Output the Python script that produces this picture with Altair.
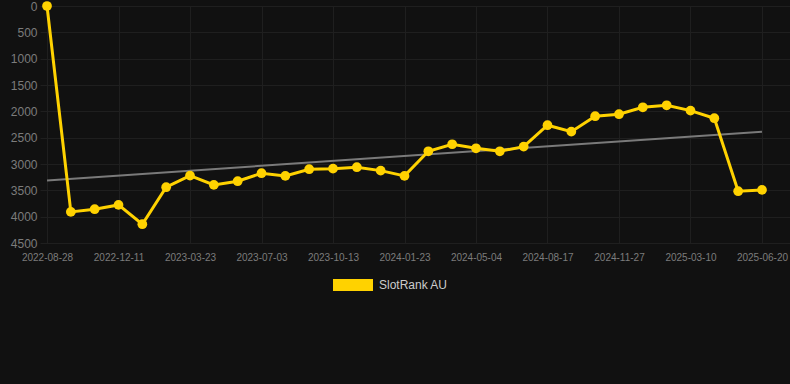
import json
import altair as alt
import pandas as pd

tick_labels = ["2022-08-28", "2022-12-11", "2023-03-23", "2023-07-03", "2023-10-13",
               "2024-01-23", "2024-05-04", "2024-08-17", "2024-11-27", "2025-03-10",
               "2025-06-20"]
ranks = [0, 3910, 3859, 3777, 4143, 3441, 3221, 3397, 3327, 3175, 3226,
         3099, 3088, 3061, 3126, 3226, 2758, 2625, 2701, 2758, 2670,
         2264, 2386, 2093, 2055, 1923, 1885, 1987, 2131, 3517, 3492]
series_name = "SlotRank AU"
y_ticks = [0, 500, 1000, 1500, 2000, 2500, 3000, 3500, 4000, 4500]

df = pd.DataFrame({"idx": list(range(len(ranks))), "rank": ranks, "series": series_name})

YELLOW = "#ffd200"
GRID = "#1f1f1f"
LABEL = "#7c7c7c"
FONT = "Liberation Sans"

label_expr = json.dumps(tick_labels) + "[round(datum.value / 3)]"

x = alt.X("idx:Q",
          scale=alt.Scale(domain=[-0.294, 31.175], nice=False, zero=False),
          axis=alt.Axis(values=list(range(0, 31, 3)), labelExpr=label_expr, grid=True,
                        gridColor=GRID, gridWidth=1, domain=False, ticks=False,
                        labelPadding=9, labelFontSize=10, labelColor=LABEL, labelFont=FONT,
                        title=None, labelOverlap=False, labelFlush=False))
y = alt.Y("rank:Q",
          scale=alt.Scale(domain=[0, 4500], reverse=True, nice=False, zero=False),
          axis=alt.Axis(values=y_ticks, format="d", grid=True, gridColor=GRID, gridWidth=1,
                        domain=False, ticks=False, labelPadding=3, labelFontSize=12,
                        labelColor=LABEL, labelFont=FONT, title=None, labelOverlap=False))

legend = alt.Legend(orient="none", legendX=293, legendY=259, title=None,
                    symbolType="M-1,-0.3H1V0.3H-1Z", symbolSize=1600,
                    symbolStrokeWidth=0, symbolFillColor=YELLOW, labelFontSize=12,
                    labelColor="#cccccc", labelFont=FONT, labelOffset=6, padding=0)
color = alt.Color("series:N", scale=alt.Scale(domain=[series_name], range=[YELLOW]),
                  legend=legend)

trend = alt.Chart(df).transform_regression("idx", "rank").mark_line(
    color="#7a7a7a", strokeWidth=2
).encode(x=x, y=y)

line = alt.Chart(df).mark_line(strokeWidth=3).encode(x=x, y=y, color=color)

points = alt.Chart(df).mark_circle(size=95, opacity=1).encode(x=x, y=y, color=color)

chart = alt.layer(trend, line, points).properties(
    width=750, height=237,
    autosize=alt.AutoSizeParams(type="none"),
    padding={"left": 40, "top": 6, "right": 0, "bottom": 141},
    background="#111111",
).configure_view(stroke=None)

chart.save("out.html", embed_options={"renderer": "svg", "actions": False})
